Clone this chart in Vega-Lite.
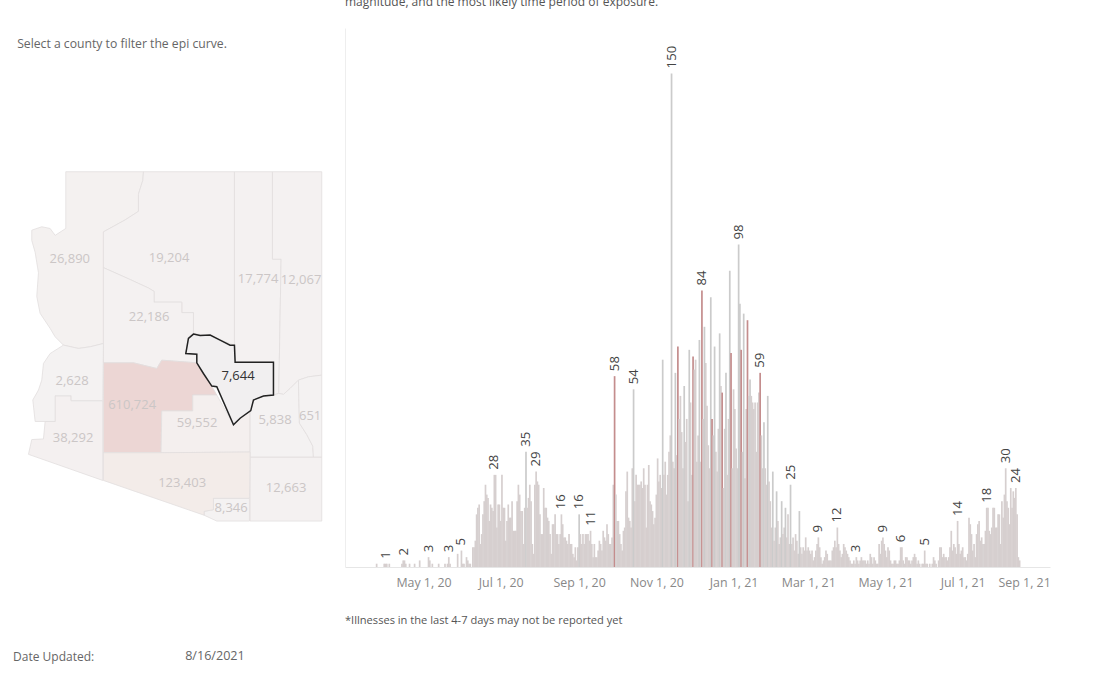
{
"$schema":"https://vega.github.io/schema/vega-lite/v6.json",
"width":1095,"height":675,"padding":0,"autosize":"none","background":"white",
"projection":{"type":"mercator","scale":2922,"translate":[5883.5,2204.7]},
"config":{"view":{"stroke":null},"font":"Open Sans"},
"datasets":{
"counties":[
{"type":"Feature","properties":{"name":"Mohave","cases":26890},"geometry":{"type":"Polygon","coordinates":[[[-114.076,36.989],[-112.553,36.989],[-112.566,36.854],[-112.651,36.637],[-112.651,36.366],[-112.913,36.230],[-113.338,36.041],[-113.338,34.252],[-113.599,34.198],[-113.828,34.171],[-114.122,34.225],[-114.285,34.360],[-114.383,34.496],[-114.580,34.740],[-114.645,35.011],[-114.612,35.390],[-114.677,35.715],[-114.743,35.905],[-114.743,36.068],[-114.547,36.122],[-114.383,36.095],[-114.285,35.986],[-114.076,36.095],[-114.076,36.989]]]}},
{"type":"Feature","properties":{"name":"Coconino","cases":19204},"geometry":{"type":"Polygon","coordinates":[[[-112.553,36.989],[-110.769,36.989],[-110.769,34.225],[-110.854,34.252],[-111.246,34.371],[-111.573,34.415],[-111.573,34.751],[-111.802,34.751],[-111.802,34.919],[-112.344,34.919],[-112.344,35.092],[-112.455,35.146],[-112.815,35.282],[-113.338,35.472],[-113.338,36.041],[-112.913,36.230],[-112.651,36.366],[-112.651,36.637],[-112.566,36.854],[-112.553,36.989]]]}},
{"type":"Feature","properties":{"name":"Navajo","cases":17774},"geometry":{"type":"Polygon","coordinates":[[[-110.769,36.989],[-110.024,36.989],[-110.024,35.607],[-109.854,35.607],[-109.900,33.439],[-110.004,33.412],[-110.004,33.949],[-110.756,33.949],[-110.769,34.225],[-110.769,36.989]]]}},
{"type":"Feature","properties":{"name":"Apache","cases":12067},"geometry":{"type":"Polygon","coordinates":[[[-110.024,36.989],[-109.057,36.989],[-109.057,33.737],[-109.318,33.710],[-109.514,33.656],[-109.677,33.520],[-109.808,33.423],[-109.900,33.439],[-109.854,35.607],[-110.024,35.607],[-110.024,36.989]]]}},
{"type":"Feature","properties":{"name":"Yavapai","cases":22186},"geometry":{"type":"Polygon","coordinates":[[[-113.338,35.472],[-112.815,35.282],[-112.455,35.146],[-112.344,35.092],[-112.344,34.919],[-111.802,34.919],[-111.802,34.751],[-111.573,34.751],[-111.573,34.415],[-111.671,34.360],[-111.723,34.089],[-111.507,34.079],[-111.507,33.938],[-112.194,33.981],[-112.292,33.846],[-112.749,33.938],[-113.338,33.938],[-113.338,35.472]]]}},
{"type":"Feature","properties":{"name":"Maricopa","cases":610724},"geometry":{"type":"Polygon","coordinates":[[[-113.338,33.938],[-112.749,33.938],[-112.292,33.846],[-112.194,33.981],[-111.507,33.938],[-111.377,33.764],[-111.213,33.558],[-111.115,33.412],[-111.586,33.412],[-111.586,33.152],[-112.194,33.152],[-112.207,32.463],[-113.338,32.463],[-113.338,33.938]]]}},
{"type":"Feature","properties":{"name":"Pinal","cases":59552},"geometry":{"type":"Polygon","coordinates":[[[-111.586,33.412],[-111.115,33.412],[-110.788,32.924],[-110.658,33.032],[-110.462,33.141],[-110.462,32.474],[-112.207,32.463],[-112.194,33.152],[-111.586,33.152],[-111.586,33.412]]]}},
{"type":"Feature","properties":{"name":"Graham","cases":5838},"geometry":{"type":"Polygon","coordinates":[[[-110.004,33.412],[-109.900,33.439],[-109.808,33.423],[-109.677,33.520],[-109.514,33.656],[-109.495,32.951],[-109.351,32.762],[-109.233,32.572],[-109.220,32.387],[-110.462,32.387],[-110.462,33.141],[-110.396,33.331],[-110.200,33.396],[-110.004,33.412]]]}},
{"type":"Feature","properties":{"name":"Greenlee","cases":651},"geometry":{"type":"Polygon","coordinates":[[[-109.514,33.656],[-109.318,33.710],[-109.057,33.737],[-109.057,32.387],[-109.220,32.387],[-109.233,32.572],[-109.351,32.762],[-109.495,32.951],[-109.514,33.656]]]}},
{"type":"Feature","properties":{"name":"Cochise","cases":12663},"geometry":{"type":"Polygon","coordinates":[[[-110.462,32.387],[-109.057,32.387],[-109.057,31.325],[-110.462,31.325],[-110.462,32.387]]]}},
{"type":"Feature","properties":{"name":"Santa Cruz","cases":8346},"geometry":{"type":"Polygon","coordinates":[[[-111.181,31.705],[-110.475,31.705],[-110.475,31.325],[-111.115,31.325],[-111.364,31.423],[-111.364,31.488],[-111.181,31.515],[-111.181,31.705]]]}},
{"type":"Feature","properties":{"name":"Pima","cases":123403},"geometry":{"type":"Polygon","coordinates":[[[-113.338,32.463],[-112.207,32.463],[-110.462,32.474],[-110.475,31.705],[-111.181,31.705],[-111.181,31.515],[-111.364,31.488],[-111.364,31.423],[-113.338,32.003],[-113.338,32.463]]]}},
{"type":"Feature","properties":{"name":"Yuma","cases":38292},"geometry":{"type":"Polygon","coordinates":[[[-114.285,33.401],[-113.972,33.401],[-113.972,33.320],[-113.351,33.320],[-113.351,32.003],[-114.808,32.436],[-114.743,32.680],[-114.514,32.691],[-114.481,32.978],[-114.285,32.978],[-114.285,33.401]]]}},
{"type":"Feature","properties":{"name":"La Paz","cases":2628},"geometry":{"type":"Polygon","coordinates":[[[-114.122,34.225],[-113.828,34.171],[-113.599,34.198],[-113.338,34.252],[-113.351,33.320],[-113.972,33.320],[-113.972,33.401],[-114.285,33.401],[-114.285,32.978],[-114.677,32.978],[-114.723,33.331],[-114.612,33.493],[-114.547,33.656],[-114.514,33.927],[-114.383,34.089],[-114.122,34.225]]]}},
{"type":"Feature","properties":{"name":"Gila","cases":7644},"geometry":{"type":"Polygon","coordinates":[[[-111.573,34.404],[-111.442,34.382],[-111.246,34.388],[-111.050,34.306],[-110.854,34.225],[-110.769,34.225],[-110.756,33.949],[-110.004,33.949],[-110.004,33.412],[-110.200,33.396],[-110.396,33.331],[-110.449,33.157],[-110.658,33.032],[-110.788,32.924],[-111.115,33.548],[-111.213,33.558],[-111.377,33.764],[-111.507,33.938],[-111.507,34.079],[-111.723,34.089],[-111.671,34.333],[-111.573,34.404]]]}}
],
"countyLabels":[
{"cases":26890,"lon":-113.998,"lat":35.615},
{"cases":19204,"lon":-112.050,"lat":35.620},
{"cases":17774,"lon":-110.305,"lat":35.296},
{"cases":12067,"lon":-109.462,"lat":35.280},
{"cases":22186,"lon":-112.442,"lat":34.679},
{"cases":2628,"lon":-113.952,"lat":33.638},
{"cases":610724,"lon":-112.775,"lat":33.248},
{"cases":59552,"lon":-111.501,"lat":32.955},
{"cases":5838,"lon":-109.972,"lat":33.004},
{"cases":651,"lon":-109.285,"lat":33.069},
{"cases":38292,"lon":-113.932,"lat":32.711},
{"cases":123403,"lon":-111.795,"lat":31.963},
{"cases":12663,"lon":-109.756,"lat":31.882},
{"cases":8346,"lon":-110.834,"lat":31.540}
],
"daily":[
{"date":"2020-03-25","cases":1,"group":"p"},{"date":"2020-03-31","cases":1,"group":"p"},
{"date":"2020-04-01","cases":1,"group":"p","peak":1},{"date":"2020-04-02","cases":1,"group":"p"},{"date":"2020-04-04","cases":1,"group":"p"},{"date":"2020-04-14","cases":1,"group":"p"},{"date":"2020-04-15","cases":2,"group":"p"},{"date":"2020-04-16","cases":2,"group":"p","peak":1},{"date":"2020-04-17","cases":1,"group":"p"},{"date":"2020-04-20","cases":1,"group":"p"},{"date":"2020-04-24","cases":1,"group":"p"},{"date":"2020-04-28","cases":2,"group":"p"},
{"date":"2020-05-05","cases":3,"group":"p","peak":1},{"date":"2020-05-06","cases":2,"group":"p"},{"date":"2020-05-08","cases":1,"group":"p"},{"date":"2020-05-13","cases":1,"group":"p"},{"date":"2020-05-18","cases":1,"group":"p"},{"date":"2020-05-20","cases":1,"group":"p"},{"date":"2020-05-21","cases":3,"group":"p","peak":1},{"date":"2020-05-22","cases":1,"group":"p"},{"date":"2020-05-28","cases":4,"group":"p"},{"date":"2020-05-31","cases":5,"group":"p","peak":1},
{"date":"2020-06-01","cases":1,"group":"p"},{"date":"2020-06-02","cases":1,"group":"p"},{"date":"2020-06-04","cases":3,"group":"p"},{"date":"2020-06-05","cases":2,"group":"p"},{"date":"2020-06-06","cases":1,"group":"p"},{"date":"2020-06-07","cases":1,"group":"p"},{"date":"2020-06-09","cases":6,"group":"p"},{"date":"2020-06-10","cases":6,"group":"p"},{"date":"2020-06-11","cases":8,"group":"p"},{"date":"2020-06-12","cases":16,"group":"p"},{"date":"2020-06-13","cases":18,"group":"p"},{"date":"2020-06-14","cases":19,"group":"p"},{"date":"2020-06-15","cases":7,"group":"p"},{"date":"2020-06-16","cases":10,"group":"p"},{"date":"2020-06-17","cases":16,"group":"p"},{"date":"2020-06-18","cases":20,"group":"p"},{"date":"2020-06-19","cases":25,"group":"p"},{"date":"2020-06-20","cases":22,"group":"p"},{"date":"2020-06-21","cases":21,"group":"p"},{"date":"2020-06-22","cases":14,"group":"p"},{"date":"2020-06-23","cases":19,"group":"p"},{"date":"2020-06-24","cases":18,"group":"p"},{"date":"2020-06-25","cases":17,"group":"p"},{"date":"2020-06-26","cases":28,"group":"p","peak":1},{"date":"2020-06-27","cases":28,"group":"p"},{"date":"2020-06-28","cases":12,"group":"p"},{"date":"2020-06-29","cases":19,"group":"p"},{"date":"2020-06-30","cases":19,"group":"p"},
{"date":"2020-07-01","cases":14,"group":"p"},{"date":"2020-07-02","cases":28,"group":"p"},{"date":"2020-07-03","cases":18,"group":"p"},{"date":"2020-07-04","cases":18,"group":"p"},{"date":"2020-07-05","cases":8,"group":"p"},{"date":"2020-07-06","cases":14,"group":"p"},{"date":"2020-07-07","cases":19,"group":"p"},{"date":"2020-07-08","cases":15,"group":"p"},{"date":"2020-07-09","cases":15,"group":"p"},{"date":"2020-07-10","cases":20,"group":"p"},{"date":"2020-07-11","cases":11,"group":"p"},{"date":"2020-07-12","cases":11,"group":"p"},{"date":"2020-07-13","cases":11,"group":"p"},{"date":"2020-07-14","cases":20,"group":"p"},{"date":"2020-07-15","cases":25,"group":"p"},{"date":"2020-07-16","cases":22,"group":"p"},{"date":"2020-07-17","cases":17,"group":"p"},{"date":"2020-07-18","cases":17,"group":"p"},{"date":"2020-07-19","cases":7,"group":"p"},{"date":"2020-07-20","cases":18,"group":"p"},{"date":"2020-07-21","cases":35,"group":"g","peak":1},{"date":"2020-07-22","cases":18,"group":"p"},{"date":"2020-07-23","cases":21,"group":"p"},{"date":"2020-07-24","cases":25,"group":"p"},{"date":"2020-07-25","cases":20,"group":"p"},{"date":"2020-07-26","cases":7,"group":"p"},{"date":"2020-07-27","cases":4,"group":"p"},{"date":"2020-07-28","cases":25,"group":"p"},{"date":"2020-07-29","cases":29,"group":"p","peak":1},{"date":"2020-07-30","cases":26,"group":"p"},{"date":"2020-07-31","cases":25,"group":"p"},
{"date":"2020-08-01","cases":16,"group":"p"},{"date":"2020-08-02","cases":10,"group":"p"},{"date":"2020-08-03","cases":10,"group":"p"},{"date":"2020-08-04","cases":24,"group":"p"},{"date":"2020-08-05","cases":18,"group":"p"},{"date":"2020-08-06","cases":18,"group":"p"},{"date":"2020-08-07","cases":15,"group":"p"},{"date":"2020-08-08","cases":14,"group":"p"},{"date":"2020-08-09","cases":10,"group":"p"},{"date":"2020-08-10","cases":4,"group":"p"},{"date":"2020-08-11","cases":13,"group":"p"},{"date":"2020-08-12","cases":13,"group":"p"},{"date":"2020-08-13","cases":16,"group":"p"},{"date":"2020-08-14","cases":10,"group":"p"},{"date":"2020-08-15","cases":10,"group":"p"},{"date":"2020-08-16","cases":7,"group":"p"},{"date":"2020-08-17","cases":10,"group":"p"},{"date":"2020-08-18","cases":16,"group":"p","peak":1},{"date":"2020-08-19","cases":13,"group":"p"},{"date":"2020-08-20","cases":9,"group":"p"},{"date":"2020-08-21","cases":9,"group":"p"},{"date":"2020-08-22","cases":8,"group":"p"},{"date":"2020-08-23","cases":7,"group":"p"},{"date":"2020-08-24","cases":10,"group":"p"},{"date":"2020-08-25","cases":7,"group":"p"},{"date":"2020-08-26","cases":7,"group":"p"},{"date":"2020-08-27","cases":4,"group":"p"},{"date":"2020-08-28","cases":3,"group":"p"},{"date":"2020-08-29","cases":6,"group":"p"},{"date":"2020-08-30","cases":2,"group":"p"},{"date":"2020-08-31","cases":6,"group":"p"},
{"date":"2020-09-01","cases":16,"group":"g","peak":1},{"date":"2020-09-02","cases":10,"group":"p"},{"date":"2020-09-03","cases":7,"group":"p"},{"date":"2020-09-04","cases":10,"group":"p"},{"date":"2020-09-05","cases":7,"group":"p"},{"date":"2020-09-06","cases":10,"group":"p"},{"date":"2020-09-07","cases":10,"group":"p"},{"date":"2020-09-08","cases":10,"group":"p"},{"date":"2020-09-09","cases":8,"group":"p"},{"date":"2020-09-10","cases":11,"group":"p","peak":1},{"date":"2020-09-11","cases":7,"group":"p"},{"date":"2020-09-12","cases":3,"group":"p"},{"date":"2020-09-13","cases":7,"group":"p"},{"date":"2020-09-14","cases":3,"group":"p"},{"date":"2020-09-15","cases":3,"group":"p"},{"date":"2020-09-16","cases":5,"group":"p"},{"date":"2020-09-17","cases":8,"group":"p"},{"date":"2020-09-18","cases":7,"group":"p"},{"date":"2020-09-19","cases":5,"group":"p"},{"date":"2020-09-20","cases":11,"group":"p"},{"date":"2020-09-21","cases":9,"group":"p"},{"date":"2020-09-22","cases":8,"group":"p"},{"date":"2020-09-23","cases":13,"group":"p"},{"date":"2020-09-24","cases":10,"group":"p"},{"date":"2020-09-25","cases":7,"group":"p"},{"date":"2020-09-26","cases":7,"group":"p"},{"date":"2020-09-27","cases":9,"group":"p"},{"date":"2020-09-28","cases":25,"group":"p"},{"date":"2020-09-29","cases":58,"group":"r","peak":1},{"date":"2020-09-30","cases":22,"group":"p"},
{"date":"2020-10-01","cases":14,"group":"p"},{"date":"2020-10-02","cases":14,"group":"p"},{"date":"2020-10-03","cases":10,"group":"p"},{"date":"2020-10-04","cases":7,"group":"p"},{"date":"2020-10-05","cases":5,"group":"p"},{"date":"2020-10-06","cases":11,"group":"p"},{"date":"2020-10-07","cases":12,"group":"p"},{"date":"2020-10-08","cases":23,"group":"p"},{"date":"2020-10-09","cases":29,"group":"p"},{"date":"2020-10-10","cases":15,"group":"p"},{"date":"2020-10-11","cases":14,"group":"p"},{"date":"2020-10-12","cases":12,"group":"p"},{"date":"2020-10-13","cases":30,"group":"p"},{"date":"2020-10-14","cases":54,"group":"g","peak":1},{"date":"2020-10-15","cases":20,"group":"p"},{"date":"2020-10-16","cases":28,"group":"p"},{"date":"2020-10-17","cases":25,"group":"p"},{"date":"2020-10-18","cases":25,"group":"p"},{"date":"2020-10-19","cases":25,"group":"p"},{"date":"2020-10-20","cases":26,"group":"p"},{"date":"2020-10-21","cases":24,"group":"p"},{"date":"2020-10-22","cases":30,"group":"p"},{"date":"2020-10-23","cases":25,"group":"p"},{"date":"2020-10-24","cases":12,"group":"p"},{"date":"2020-10-25","cases":25,"group":"p"},{"date":"2020-10-26","cases":31,"group":"p"},{"date":"2020-10-27","cases":20,"group":"p"},{"date":"2020-10-28","cases":19,"group":"p"},{"date":"2020-10-29","cases":17,"group":"p"},{"date":"2020-10-30","cases":13,"group":"p"},{"date":"2020-10-31","cases":15,"group":"p"},
{"date":"2020-11-01","cases":22,"group":"p"},{"date":"2020-11-02","cases":33,"group":"p"},{"date":"2020-11-03","cases":26,"group":"p"},{"date":"2020-11-04","cases":28,"group":"p"},{"date":"2020-11-05","cases":24,"group":"p"},{"date":"2020-11-06","cases":63,"group":"g"},{"date":"2020-11-07","cases":28,"group":"p"},{"date":"2020-11-08","cases":32,"group":"p"},{"date":"2020-11-09","cases":22,"group":"p"},{"date":"2020-11-10","cases":28,"group":"p"},{"date":"2020-11-11","cases":35,"group":"p"},{"date":"2020-11-12","cases":40,"group":"p"},{"date":"2020-11-13","cases":150,"group":"g","peak":1},{"date":"2020-11-14","cases":32,"group":"p"},{"date":"2020-11-15","cases":30,"group":"p"},{"date":"2020-11-16","cases":59,"group":"g"},{"date":"2020-11-17","cases":34,"group":"p"},{"date":"2020-11-18","cases":67,"group":"r"},{"date":"2020-11-19","cases":45,"group":"p"},{"date":"2020-11-20","cases":52,"group":"p"},{"date":"2020-11-21","cases":41,"group":"p"},{"date":"2020-11-22","cases":30,"group":"p"},{"date":"2020-11-23","cases":55,"group":"g"},{"date":"2020-11-24","cases":38,"group":"p"},{"date":"2020-11-25","cases":45,"group":"p"},{"date":"2020-11-26","cases":20,"group":"p"},{"date":"2020-11-27","cases":66,"group":"g"},{"date":"2020-11-28","cases":50,"group":"p"},{"date":"2020-11-29","cases":28,"group":"p"},{"date":"2020-11-30","cases":64,"group":"r"},
{"date":"2020-12-01","cases":60,"group":"p"},{"date":"2020-12-02","cases":63,"group":"p"},{"date":"2020-12-03","cases":32,"group":"p"},{"date":"2020-12-04","cases":40,"group":"p"},{"date":"2020-12-05","cases":69,"group":"g"},{"date":"2020-12-06","cases":32,"group":"p"},{"date":"2020-12-07","cases":84,"group":"r","peak":1},{"date":"2020-12-08","cases":45,"group":"p"},{"date":"2020-12-09","cases":73,"group":"g"},{"date":"2020-12-10","cases":62,"group":"p"},{"date":"2020-12-11","cases":49,"group":"p"},{"date":"2020-12-12","cases":37,"group":"p"},{"date":"2020-12-13","cases":30,"group":"p"},{"date":"2020-12-14","cases":82,"group":"g"},{"date":"2020-12-15","cases":45,"group":"r"},{"date":"2020-12-16","cases":40,"group":"p"},{"date":"2020-12-17","cases":67,"group":"g"},{"date":"2020-12-18","cases":35,"group":"p"},{"date":"2020-12-19","cases":29,"group":"p"},{"date":"2020-12-20","cases":42,"group":"p"},{"date":"2020-12-21","cases":71,"group":"g"},{"date":"2020-12-22","cases":55,"group":"p"},{"date":"2020-12-23","cases":53,"group":"r"},{"date":"2020-12-24","cases":24,"group":"p"},{"date":"2020-12-25","cases":42,"group":"p"},{"date":"2020-12-26","cases":59,"group":"g"},{"date":"2020-12-27","cases":28,"group":"p"},{"date":"2020-12-28","cases":45,"group":"p"},{"date":"2020-12-29","cases":90,"group":"g"},{"date":"2020-12-30","cases":65,"group":"r"},{"date":"2020-12-31","cases":30,"group":"p"},
{"date":"2021-01-01","cases":54,"group":"p"},{"date":"2021-01-02","cases":48,"group":"p"},{"date":"2021-01-03","cases":36,"group":"p"},{"date":"2021-01-04","cases":30,"group":"p"},{"date":"2021-01-05","cases":98,"group":"g","peak":1},{"date":"2021-01-06","cases":80,"group":"g"},{"date":"2021-01-07","cases":66,"group":"r"},{"date":"2021-01-08","cases":35,"group":"p"},{"date":"2021-01-09","cases":77,"group":"g"},{"date":"2021-01-10","cases":27,"group":"p"},{"date":"2021-01-11","cases":48,"group":"p"},{"date":"2021-01-12","cases":75,"group":"r"},{"date":"2021-01-13","cases":52,"group":"p"},{"date":"2021-01-14","cases":57,"group":"g"},{"date":"2021-01-15","cases":52,"group":"p"},{"date":"2021-01-16","cases":50,"group":"p"},{"date":"2021-01-17","cases":48,"group":"p"},{"date":"2021-01-18","cases":50,"group":"p"},{"date":"2021-01-19","cases":35,"group":"p"},{"date":"2021-01-20","cases":50,"group":"p"},{"date":"2021-01-21","cases":53,"group":"p"},{"date":"2021-01-22","cases":59,"group":"r","peak":1},{"date":"2021-01-23","cases":40,"group":"p"},{"date":"2021-01-24","cases":30,"group":"p"},{"date":"2021-01-25","cases":44,"group":"g"},{"date":"2021-01-26","cases":30,"group":"p"},{"date":"2021-01-27","cases":25,"group":"p"},{"date":"2021-01-28","cases":52,"group":"g"},{"date":"2021-01-29","cases":26,"group":"p"},{"date":"2021-01-30","cases":20,"group":"p"},{"date":"2021-01-31","cases":12,"group":"p"},
{"date":"2021-02-01","cases":29,"group":"g"},{"date":"2021-02-02","cases":8,"group":"p"},{"date":"2021-02-03","cases":12,"group":"p"},{"date":"2021-02-04","cases":23,"group":"g"},{"date":"2021-02-05","cases":14,"group":"p"},{"date":"2021-02-06","cases":7,"group":"p"},{"date":"2021-02-07","cases":9,"group":"p"},{"date":"2021-02-08","cases":20,"group":"g"},{"date":"2021-02-09","cases":10,"group":"p"},{"date":"2021-02-10","cases":12,"group":"p"},{"date":"2021-02-11","cases":18,"group":"g"},{"date":"2021-02-12","cases":9,"group":"p"},{"date":"2021-02-13","cases":16,"group":"p"},{"date":"2021-02-14","cases":7,"group":"p"},{"date":"2021-02-15","cases":25,"group":"g","peak":1},{"date":"2021-02-16","cases":7,"group":"p"},{"date":"2021-02-17","cases":9,"group":"p"},{"date":"2021-02-18","cases":5,"group":"p"},{"date":"2021-02-19","cases":10,"group":"p"},{"date":"2021-02-20","cases":8,"group":"p"},{"date":"2021-02-21","cases":4,"group":"p"},{"date":"2021-02-22","cases":17,"group":"g"},{"date":"2021-02-23","cases":6,"group":"p"},{"date":"2021-02-24","cases":4,"group":"p"},{"date":"2021-02-25","cases":6,"group":"p"},{"date":"2021-02-26","cases":5,"group":"p"},{"date":"2021-02-27","cases":9,"group":"p"},{"date":"2021-02-28","cases":5,"group":"p"},
{"date":"2021-03-01","cases":6,"group":"p"},{"date":"2021-03-02","cases":5,"group":"p"},{"date":"2021-03-03","cases":4,"group":"p"},{"date":"2021-03-04","cases":5,"group":"p"},{"date":"2021-03-05","cases":2,"group":"p"},{"date":"2021-03-06","cases":3,"group":"p"},{"date":"2021-03-07","cases":5,"group":"p"},{"date":"2021-03-08","cases":7,"group":"p"},{"date":"2021-03-09","cases":9,"group":"p","peak":1},{"date":"2021-03-10","cases":6,"group":"p"},{"date":"2021-03-11","cases":3,"group":"p"},{"date":"2021-03-12","cases":1,"group":"p"},{"date":"2021-03-13","cases":2,"group":"p"},{"date":"2021-03-14","cases":3,"group":"p"},{"date":"2021-03-15","cases":5,"group":"p"},{"date":"2021-03-16","cases":4,"group":"p"},{"date":"2021-03-17","cases":2,"group":"p"},{"date":"2021-03-18","cases":2,"group":"p"},{"date":"2021-03-19","cases":2,"group":"p"},{"date":"2021-03-20","cases":5,"group":"p"},{"date":"2021-03-21","cases":6,"group":"p"},{"date":"2021-03-22","cases":8,"group":"p"},{"date":"2021-03-23","cases":6,"group":"p"},{"date":"2021-03-24","cases":12,"group":"p","peak":1},{"date":"2021-03-25","cases":7,"group":"p"},{"date":"2021-03-26","cases":5,"group":"p"},{"date":"2021-03-27","cases":3,"group":"p"},{"date":"2021-03-28","cases":4,"group":"p"},{"date":"2021-03-29","cases":7,"group":"p"},{"date":"2021-03-30","cases":6,"group":"p"},{"date":"2021-03-31","cases":5,"group":"p"},
{"date":"2021-04-01","cases":4,"group":"p"},{"date":"2021-04-02","cases":3,"group":"p"},{"date":"2021-04-03","cases":2,"group":"p"},{"date":"2021-04-04","cases":1,"group":"p"},{"date":"2021-04-05","cases":1,"group":"p"},{"date":"2021-04-06","cases":2,"group":"p"},{"date":"2021-04-07","cases":1,"group":"p"},{"date":"2021-04-08","cases":3,"group":"p","peak":1},{"date":"2021-04-09","cases":2,"group":"p"},{"date":"2021-04-10","cases":1,"group":"p"},{"date":"2021-04-11","cases":2,"group":"p"},{"date":"2021-04-12","cases":3,"group":"p"},{"date":"2021-04-13","cases":2,"group":"p"},{"date":"2021-04-14","cases":2,"group":"p"},{"date":"2021-04-15","cases":2,"group":"p"},{"date":"2021-04-16","cases":1,"group":"p"},{"date":"2021-04-17","cases":2,"group":"p"},{"date":"2021-04-18","cases":1,"group":"p"},{"date":"2021-04-19","cases":4,"group":"p"},{"date":"2021-04-20","cases":3,"group":"p"},{"date":"2021-04-21","cases":1,"group":"p"},{"date":"2021-04-22","cases":3,"group":"p"},{"date":"2021-04-23","cases":2,"group":"p"},{"date":"2021-04-24","cases":1,"group":"p"},{"date":"2021-04-25","cases":1,"group":"p"},{"date":"2021-04-26","cases":7,"group":"p"},{"date":"2021-04-27","cases":4,"group":"p"},{"date":"2021-04-28","cases":8,"group":"p"},{"date":"2021-04-29","cases":9,"group":"p","peak":1},{"date":"2021-04-30","cases":7,"group":"p"},
{"date":"2021-05-01","cases":5,"group":"p"},{"date":"2021-05-02","cases":3,"group":"p"},{"date":"2021-05-03","cases":6,"group":"p"},{"date":"2021-05-04","cases":5,"group":"p"},{"date":"2021-05-05","cases":2,"group":"p"},{"date":"2021-05-06","cases":1,"group":"p"},{"date":"2021-05-07","cases":1,"group":"p"},{"date":"2021-05-08","cases":2,"group":"p"},{"date":"2021-05-09","cases":2,"group":"p"},{"date":"2021-05-10","cases":1,"group":"p"},{"date":"2021-05-11","cases":1,"group":"p"},{"date":"2021-05-12","cases":2,"group":"p"},{"date":"2021-05-13","cases":6,"group":"p","peak":1},{"date":"2021-05-14","cases":6,"group":"p"},{"date":"2021-05-15","cases":2,"group":"p"},{"date":"2021-05-16","cases":1,"group":"p"},{"date":"2021-05-17","cases":3,"group":"p"},{"date":"2021-05-18","cases":3,"group":"p"},{"date":"2021-05-19","cases":2,"group":"p"},{"date":"2021-05-20","cases":2,"group":"p"},{"date":"2021-05-21","cases":1,"group":"p"},{"date":"2021-05-22","cases":2,"group":"p"},{"date":"2021-05-23","cases":3,"group":"p"},{"date":"2021-05-24","cases":4,"group":"p"},{"date":"2021-05-25","cases":3,"group":"p"},{"date":"2021-05-26","cases":1,"group":"p"},{"date":"2021-05-27","cases":2,"group":"p"},{"date":"2021-05-28","cases":1,"group":"p"},{"date":"2021-05-30","cases":1,"group":"p"},{"date":"2021-05-31","cases":1,"group":"p"},
{"date":"2021-06-01","cases":5,"group":"p","peak":1},{"date":"2021-06-02","cases":1,"group":"p"},{"date":"2021-06-03","cases":1,"group":"p"},{"date":"2021-06-05","cases":1,"group":"p"},{"date":"2021-06-07","cases":1,"group":"p"},{"date":"2021-06-08","cases":3,"group":"p"},{"date":"2021-06-09","cases":2,"group":"p"},{"date":"2021-06-10","cases":1,"group":"p"},{"date":"2021-06-12","cases":2,"group":"p"},{"date":"2021-06-13","cases":6,"group":"p"},{"date":"2021-06-14","cases":6,"group":"p"},{"date":"2021-06-15","cases":3,"group":"p"},{"date":"2021-06-16","cases":4,"group":"p"},{"date":"2021-06-17","cases":3,"group":"p"},{"date":"2021-06-18","cases":3,"group":"p"},{"date":"2021-06-19","cases":2,"group":"p"},{"date":"2021-06-20","cases":3,"group":"p"},{"date":"2021-06-21","cases":6,"group":"p"},{"date":"2021-06-22","cases":11,"group":"p"},{"date":"2021-06-23","cases":5,"group":"p"},{"date":"2021-06-24","cases":7,"group":"p"},{"date":"2021-06-25","cases":6,"group":"p"},{"date":"2021-06-26","cases":4,"group":"p"},{"date":"2021-06-27","cases":14,"group":"p","peak":1},{"date":"2021-06-28","cases":7,"group":"p"},{"date":"2021-06-29","cases":4,"group":"p"},{"date":"2021-06-30","cases":5,"group":"p"},
{"date":"2021-07-01","cases":6,"group":"p"},{"date":"2021-07-02","cases":3,"group":"p"},{"date":"2021-07-03","cases":3,"group":"p"},{"date":"2021-07-04","cases":2,"group":"p"},{"date":"2021-07-05","cases":4,"group":"p"},{"date":"2021-07-06","cases":15,"group":"p"},{"date":"2021-07-07","cases":13,"group":"p"},{"date":"2021-07-08","cases":10,"group":"p"},{"date":"2021-07-09","cases":5,"group":"p"},{"date":"2021-07-10","cases":7,"group":"p"},{"date":"2021-07-11","cases":3,"group":"p"},{"date":"2021-07-12","cases":10,"group":"p"},{"date":"2021-07-13","cases":13,"group":"p"},{"date":"2021-07-14","cases":14,"group":"p"},{"date":"2021-07-15","cases":8,"group":"p"},{"date":"2021-07-16","cases":9,"group":"p"},{"date":"2021-07-17","cases":7,"group":"p"},{"date":"2021-07-18","cases":7,"group":"p"},{"date":"2021-07-19","cases":11,"group":"p"},{"date":"2021-07-20","cases":18,"group":"p","peak":1},{"date":"2021-07-21","cases":18,"group":"p"},{"date":"2021-07-22","cases":11,"group":"p"},{"date":"2021-07-23","cases":10,"group":"p"},{"date":"2021-07-24","cases":12,"group":"p"},{"date":"2021-07-25","cases":18,"group":"p"},{"date":"2021-07-26","cases":18,"group":"p"},{"date":"2021-07-27","cases":12,"group":"p"},{"date":"2021-07-28","cases":12,"group":"p"},{"date":"2021-07-29","cases":16,"group":"p"},{"date":"2021-07-30","cases":16,"group":"p"},{"date":"2021-07-31","cases":7,"group":"p"},
{"date":"2021-08-01","cases":20,"group":"p"},{"date":"2021-08-02","cases":15,"group":"p"},{"date":"2021-08-03","cases":22,"group":"p"},{"date":"2021-08-04","cases":30,"group":"p","peak":1},{"date":"2021-08-05","cases":20,"group":"p"},{"date":"2021-08-06","cases":18,"group":"p"},{"date":"2021-08-07","cases":13,"group":"p"},{"date":"2021-08-08","cases":24,"group":"p"},{"date":"2021-08-09","cases":18,"group":"p"},{"date":"2021-08-10","cases":23,"group":"p"},{"date":"2021-08-11","cases":21,"group":"p"},{"date":"2021-08-12","cases":24,"group":"p","peak":1},{"date":"2021-08-13","cases":16,"group":"p"},{"date":"2021-08-14","cases":3,"group":"p"},{"date":"2021-08-15","cases":2,"group":"p"}
]
},
"layer":[
{"data":{"name":"counties"},"mark":{"type":"geoshape","stroke":"#e2dede","strokeWidth":0.8},
 "encoding":{"fill":{"field":"properties.cases","type":"quantitative","legend":null,"scale":{"type":"linear","domain":[0,123403,610724],"range":["#f4f2f2","#f3ece9","#ecd6d4"]}}}},
{"data":{"name":"counties"},"transform":[{"filter":"datum.properties.name == 'Gila'"}],"mark":{"type":"geoshape","fill":"#f1eff0","stroke":"#222222","strokeWidth":1.5}},
{"data":{"name":"countyLabels"},"mark":{"type":"text","font":"Open Sans","fontSize":13,"color":"#cbc6c6"},
 "encoding":{"longitude":{"field":"lon","type":"quantitative"},"latitude":{"field":"lat","type":"quantitative"},"text":{"field":"cases","type":"quantitative","format":","}}},
{"data":{"values":[{"cases":7644,"lon":-110.697,"lat":33.719}]},"mark":{"type":"text","font":"Open Sans","fontSize":13,"color":"#333333"},
 "encoding":{"longitude":{"field":"lon","type":"quantitative"},"latitude":{"field":"lat","type":"quantitative"},"text":{"field":"cases","type":"quantitative","format":","}}},
{"data":{"values":[{"note":"Select a county to filter the epi curve.","lon":-115.030,"lat":38.96,"size":12.2},{"note":"Date Updated:","lon":-115.109,"lat":29.02,"size":12},{"note":"8/16/2021","lon":-111.736,"lat":29.04,"size":12.6}]},"mark":{"type":"text","font":"Open Sans","align":"left","color":"#666666"},
 "encoding":{"longitude":{"field":"lon","type":"quantitative"},"latitude":{"field":"lat","type":"quantitative"},"text":{"field":"note"},"size":{"field":"size","type":"quantitative","scale":null}}},
{"data":{"name":"daily"},"mark":{"type":"bar","width":1.7},
 "encoding":{
  "x":{"field":"date","type":"temporal","title":null,"scale":{"type":"utc","nice":false,"padding":0,"domain":["2020-02-29","2021-09-08"],"range":[345,1050]},
   "axis":{"grid":false,"ticks":false,"offset":-108,"domainColor":"#e6e6e6","labelColor":"#888888","labelFont":"Open Sans","labelFontSize":12.4,"labelPadding":9,"labelOverlap":false,"labelFlush":false,"format":"%b %-d, %y",
    "labelOffset":{"condition":{"test":"datum.label == 'Sep 1, 21'","value":-17},"value":0},
    "values":[{"year":2020,"month":"may","date":1,"utc":true},{"year":2020,"month":"jul","date":1,"utc":true},{"year":2020,"month":"sep","date":1,"utc":true},{"year":2020,"month":"nov","date":1,"utc":true},{"year":2021,"month":"jan","date":1,"utc":true},{"year":2021,"month":"mar","date":1,"utc":true},{"year":2021,"month":"may","date":1,"utc":true},{"year":2021,"month":"jul","date":1,"utc":true},{"year":2021,"month":"sep","date":1,"utc":true}]}},
  "y":{"field":"cases","type":"quantitative","title":null,"stack":null,"scale":{"nice":false,"zero":false,"domain":[0,163.8],"range":[567,28]},
   "axis":{"grid":false,"ticks":false,"labels":false,"offset":-345,"domainColor":"#eeeeee"}},
  "color":{"field":"group","type":"nominal","legend":null,"scale":{"domain":["p","g","r"],"range":["#d6cfcf","#cbcbcb","#c48d8d"]}}}},
{"data":{"name":"daily"},"transform":[{"filter":"datum.peak == 1"}],"mark":{"type":"text","font":"Open Sans","fontSize":13.2,"angle":270,"align":"left","baseline":"middle","dx":5,"color":"#444444"},
 "encoding":{"x":{"field":"date","type":"temporal","scale":{"type":"utc","nice":false,"padding":0,"domain":["2020-02-29","2021-09-08"],"range":[345,1050]}},"y":{"field":"cases","type":"quantitative","stack":null,"scale":{"nice":false,"zero":false,"domain":[0,163.8],"range":[567,28]}},"text":{"field":"cases","type":"quantitative"}}},
{"data":{"values":[{"note":"magnitude, and the most likely time period of exposure.","date":"2020-02-29","level":171.7,"size":12},{"note":"*Illnesses in the last 4-7 days may not be reported yet","date":"2020-02-29","level":-16.4,"size":11.1}]},"mark":{"type":"text","font":"Open Sans","align":"left","color":"#555555"},
 "encoding":{"x":{"field":"date","type":"temporal","scale":{"type":"utc","nice":false,"padding":0,"domain":["2020-02-29","2021-09-08"],"range":[345,1050]}},"y":{"field":"level","type":"quantitative","scale":{"nice":false,"zero":false,"domain":[0,163.8],"range":[567,28]}},"text":{"field":"note"},"size":{"field":"size","type":"quantitative","scale":null}}}
]
}
